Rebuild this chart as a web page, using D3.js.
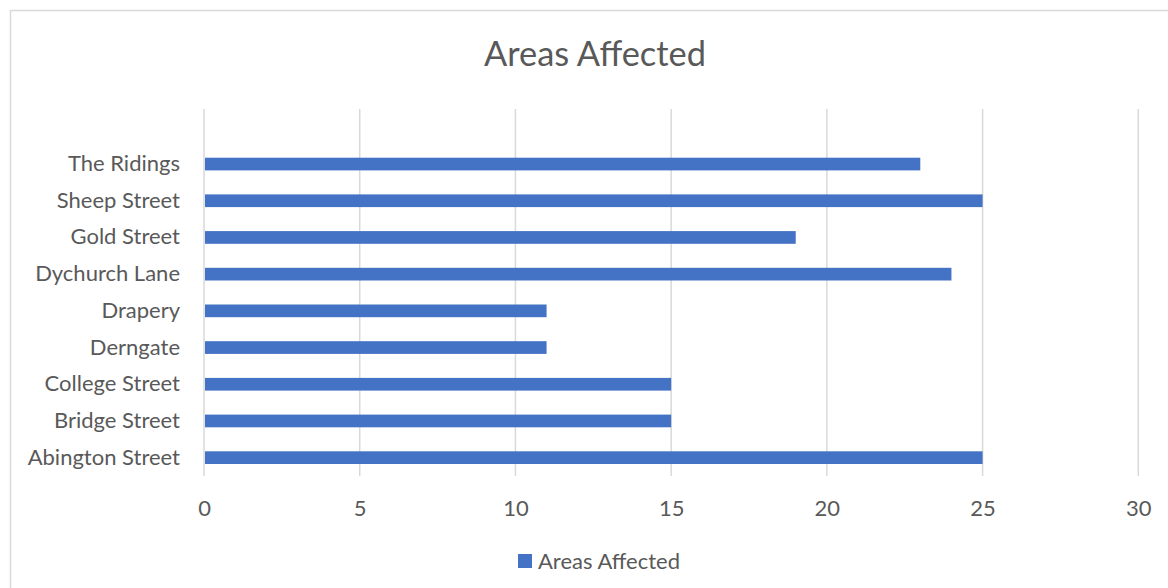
<!DOCTYPE html>
<html><head><meta charset="utf-8">
<script src="https://cdn.jsdelivr.net/npm/d3@7"></script>
<style>html,body{margin:0;padding:0;background:#fff;}svg{display:block;}</style>
</head><body>
<svg id="c" width="1168" height="588"></svg>
<script>
const categories = ["Abington Street","Bridge Street","College Street","Derngate","Drapery","Dychurch Lane","Gold Street","Sheep Street","The Ridings"];
const values = [25,15,15,11,11,24,19,25,23];
const xTicks = [0,5,10,15,20,25,30];
const title = "Areas Affected";
const seriesName = "Areas Affected";

(function(){
const font = "Lato, 'Open Sans', sans-serif";
const textColor = "#595959";
const barColor = "#4472C4";
const svg = d3.select("#c");

svg.append("rect").attr("x",10.5).attr("y",10.5).attr("width",1200).attr("height",600)
  .attr("fill","none").attr("stroke","#d9d9d9").attr("stroke-width",1.5);

const pLeft = 204, pRight = 1138.3, pTop = 109, pBottom = 476;
const x = d3.scaleLinear().domain([0,30]).range([pLeft,pRight]);
const step = (pBottom-pTop)/10;
const y = d3.scaleBand().domain(categories).range([pBottom, pBottom-step*9]).paddingInner(0.654).paddingOuter(0.327);

svg.append("g").selectAll("line").data(xTicks).join("line")
  .attr("x1",d=>x(d)).attr("x2",d=>x(d)).attr("y1",pTop).attr("y2",pBottom)
  .attr("stroke","#d9d9d9").attr("stroke-width",1.5);

svg.append("g").selectAll("rect").data(values).join("rect")
  .attr("x",x(0)+1).attr("y",(d,i)=>y(categories[i]))
  .attr("width",d=>x(d)-x(0)-1).attr("height",y.bandwidth())
  .attr("fill",barColor);

const yAxis = d3.axisLeft(y).tickSize(0).tickPadding(0);
const gy = svg.append("g").attr("transform",`translate(${180},0)`).call(yAxis);
gy.select(".domain").remove();
gy.selectAll("text").attr("font-family",font).attr("font-size",22).attr("fill",textColor);

const xAxis = d3.axisBottom(x).tickValues(xTicks).tickSize(0).tickPadding(0);
const gx = svg.append("g").attr("transform",`translate(0,${508})`).call(xAxis);
gx.select(".domain").remove();
gx.selectAll("text").attr("dy","0.35em").attr("font-family",font).attr("font-size",22).attr("fill",textColor);

svg.append("text").attr("x",595).attr("y",54).attr("dy","0.35em").attr("text-anchor","middle")
  .attr("font-family",font).attr("font-size",34.4).attr("fill",textColor).text(title);

svg.append("rect").attr("x",518).attr("y",554).attr("width",14).attr("height",14).attr("fill",barColor);
svg.append("text").attr("x",538).attr("y",561).attr("dy","0.35em")
  .attr("font-family",font).attr("font-size",22).attr("fill",textColor).text(seriesName);
})();
</script>
</body></html>
